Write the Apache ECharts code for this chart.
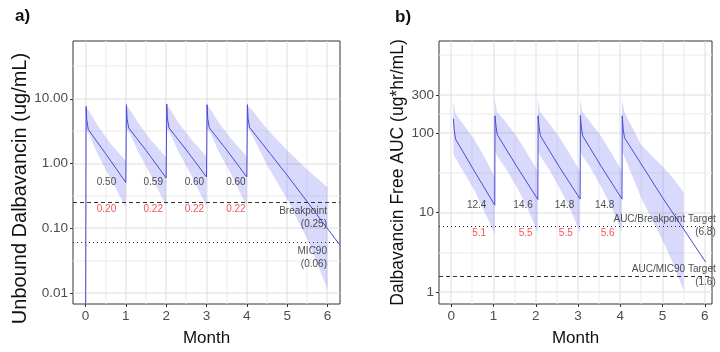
<!DOCTYPE html>
<html><head><meta charset="utf-8">
<script src="https://cdn.jsdelivr.net/npm/echarts@6/dist/echarts.min.js"></script>
<style>html,body{margin:0;padding:0;background:#fff}#c{width:720px;height:352px}</style>
</head><body><div id="c"></div>
<script>
// ---------- Panel a) : unbound concentration ----------
const concT = [0.0, 0.015, 0.03, 0.07, 0.5, 1.0,
               1.015, 1.03, 1.07, 1.5, 2.0,
               2.015, 2.03, 2.07, 2.5, 3.0,
               3.015, 3.03, 3.07, 3.5, 4.0,
               4.015, 4.03, 4.07, 5.0, 6.3];
const concV = [0.001, 7.6, 4.8, 3.35, 1.42, 0.51,
               8.1, 5.0, 3.55, 1.6, 0.60,
               8.3, 5.0, 3.55, 1.62, 0.62,
               8.1, 5.0, 3.55, 1.62, 0.62,
               8.1, 5.0, 3.6, 0.66, 0.056];
const concBandT  = [0.015, 0.1, 0.3, 0.6, 1.0,  1.0, 1.1, 1.3, 1.6, 2.0,  2.0, 2.1, 2.3, 2.6, 3.0,  3.0, 3.1, 3.3, 3.6, 4.0,  4.0, 4.1, 4.5, 5.0, 5.5, 6.0];
const concBandLo = [3.3, 2.7, 1.4, 0.62, 0.21,  3.5, 2.9, 1.55, 0.7, 0.22,  3.5, 2.9, 1.55, 0.7, 0.22,  3.5, 2.9, 1.55, 0.7, 0.22,  3.6, 3.0, 0.95, 0.28, 0.068, 0.0115];
const concBandHi = [7.4, 6.3, 3.9, 2.1, 1.1,  8.0, 6.8, 4.3, 2.4, 1.25,  8.1, 6.9, 4.3, 2.45, 1.28,  8.0, 6.9, 4.3, 2.45, 1.28,  8.0, 7.0, 3.4, 1.6, 0.8, 0.43];
const concMedLabT = [0.52, 1.68, 2.70, 3.73];
const concMedLab  = ['0.50', '0.59', '0.60', '0.60'];
const concLoLab   = ['0.20', '0.22', '0.22', '0.22'];
const concMedLabY = 0.52, concLoLabY = 0.20;
const concRefVals = [0.25, 0.06];
const concRefText = ['Breakpoint\n(0.25)', 'MIC90\n(0.06)'];
const concYTicks = [0.01, 0.1, 1, 10];
const concYMinor = [0.0316, 0.316, 3.16, 31.6];

// ---------- Panel b) : free AUC ----------
const aucT = [0.05, 0.07, 0.1, 0.55, 1.03,
              1.035, 1.06, 1.09, 1.55, 2.05,
              2.055, 2.08, 2.11, 2.55, 3.05,
              3.055, 3.08, 3.11, 3.55, 4.04,
              4.045, 4.07, 4.1, 5.0, 6.02];
const aucV = [150, 110, 84, 33, 12.4,
              164, 120, 95, 38, 14.6,
              164, 115, 92, 38, 14.8,
              165, 115, 92, 38, 14.8,
              164, 110, 87, 15.4, 2.4];
const aucBandT  = [0.05, 0.1, 0.3, 0.55, 0.8, 1.03,  1.03, 1.08, 1.3, 1.55, 1.8, 2.05,  2.05, 2.1, 2.3, 2.55, 2.8, 3.05,  3.05, 3.1, 3.3, 3.55, 3.8, 4.04,  4.04, 4.1, 4.5, 5.0, 5.25, 5.5];
const aucBandLo = [55, 48, 32, 19, 10, 5.3,  60, 52, 35, 21, 11.5, 5.6,  60, 52, 36, 21, 11.5, 5.6,  60, 52, 36, 21, 11.5, 5.7,  60, 50, 15, 4.5, 2.3, 1.05];
const aucBandHi = [250, 175, 125, 82, 48, 28,  270, 185, 135, 90, 55, 33,  270, 185, 135, 90, 55, 33,  270, 185, 135, 90, 55, 33,  260, 180, 70, 38, 27, 18];
const aucMedLabT = [0.60, 1.70, 2.68, 3.63];
const aucLoLabT  = [0.66, 1.76, 2.71, 3.70];
const aucMedLab  = ['12.4', '14.6', '14.8', '14.8'];
const aucLoLab   = ['5.1', '5.5', '5.5', '5.6'];
const aucMedLabY = 12.4, aucLoLabY = 5.5;
const aucRefVals = [6.8, 1.6];
const aucRefText = ['AUC/Breakpoint Target\n(6.8)', 'AUC/MIC90 Target\n(1.6)'];
const aucYTicks = [1, 10, 100, 300];
const aucYMinor = [3.16, 31.6, 173, 948];

const monthTicks = [0, 1, 2, 3, 4, 5, 6];
const monthMinor = [0.5, 1.5, 2.5, 3.5, 4.5, 5.5];

// ---------- styling ----------
const FONT = '"Liberation Sans", Arial, Helvetica, sans-serif';
const LINE_COLOR = '#4a4ad8';
const BAND_COLOR = 'rgba(120,120,240,0.28)';
const MAJOR = '#dedede', MINOR = '#ececec';
const RED = '#ee2b30';

function zip(a, b) { return a.map((v, i) => [v, b[i]]); }

// grid lines: one data item per line; dim2 = 0 vertical / 1 horizontal, dim3 = major flag
function gridLines(i, xMaj, xMin, yMaj, yMin) {
  const items = [];
  xMin.forEach(v => items.push({value: [v, yMaj[1], 0, 0]}));
  yMin.forEach(v => items.push({value: [xMaj[1], v, 1, 0]}));
  xMaj.forEach(v => items.push({value: [v, yMaj[1], 0, 1]}));
  yMaj.forEach(v => items.push({value: [xMaj[1], v, 1, 1]}));
  return {type: 'custom', xAxisIndex: i, yAxisIndex: i, z: 3, silent: true,
    data: items, encode: {x: 0, y: 1},
    renderItem(params, api) {
      const cs = params.coordSys;
      const p = api.coord([api.value(0), api.value(1)]);
      const col = api.value(3) ? MAJOR : MINOR;
      if (api.value(2) === 0) {
        return {type: 'rect', shape: {x: Math.round(p[0]) - 0.5, y: cs.y, width: 1, height: cs.height},
          style: {fill: col}};
      }
      if (p[1] < cs.y || p[1] > cs.y + cs.height) return null;
      return {type: 'rect', shape: {x: cs.x, y: Math.round(p[1]) - 0.5, width: cs.width, height: 1},
        style: {fill: col}};
    }};
}

function band(i, T, LO, HI) {
  return {type: 'custom', xAxisIndex: i, yAxisIndex: i, z: 4, silent: true,
    data: T.map((t, k) => [t, LO[k], HI[k]]),
    encode: {x: 0, y: [1, 2]},
    renderItem(params, api) {
      if (params.dataIndex !== 0) return null;
      const pts = [];
      for (let k = 0; k < T.length; k++) pts.push(api.coord([T[k], HI[k]]));
      for (let k = T.length - 1; k >= 0; k--) pts.push(api.coord([T[k], LO[k]]));
      return {type: 'polygon', shape: {points: pts}, style: {fill: BAND_COLOR}};
    }};
}

function medLine(i, T, V) {
  return {type: 'line', xAxisIndex: i, yAxisIndex: i, z: 5, data: zip(T, V),
    showSymbol: false, symbol: 'none', silent: true, clip: true,
    lineStyle: {color: LINE_COLOR, width: 1}};
}

function refLines(i, vals, types) {
  return {type: 'line', xAxisIndex: i, yAxisIndex: i, data: [], z: 6, silent: true,
    markLine: {silent: true, animation: false, symbol: ['none', 'none'], label: {show: false}, z: 6,
      data: vals.map((v, k) => ({yAxis: v, lineStyle: {color: '#333', width: 1, type: types[k]}}))}};
}

function textPts(i, T, Y, texts, color) {
  return {type: 'scatter', xAxisIndex: i, yAxisIndex: i, z: 7, silent: true, clip: false,
    symbol: 'circle', symbolSize: 1, itemStyle: {color: 'rgba(0,0,0,0)'},
    data: T.map((t, k) => ({value: [t, Y], label: {formatter: texts[k]}})),
    label: {show: true, position: 'inside', color: color, fontSize: 10, fontFamily: FONT}};
}

function refText(i, t, vals, texts, pos, vAlign, lh) {
  return {type: 'scatter', xAxisIndex: i, yAxisIndex: i, z: 7, silent: true, clip: false,
    symbol: 'circle', symbolSize: 1, itemStyle: {color: 'rgba(0,0,0,0)'},
    data: vals.map((v, k) => ({value: [t, v], label: {formatter: texts[k]}})),
    label: {show: true, position: pos, align: 'right', verticalAlign: vAlign, lineHeight: lh,
      color: '#222', fontSize: 10, fontFamily: FONT}};
}

const axisLabelCommon = {color: '#4d4d4d', fontFamily: FONT};
function xAxis(i, min, max) {
  return {type: 'value', gridIndex: i, min: min, max: max,
    name: 'Month', nameLocation: 'middle', nameGap: 26,
    nameTextStyle: {fontSize: 17, color: '#111', fontFamily: FONT},
    axisLine: {show: false, onZero: false}, splitLine: {show: false},
    axisTick: {show: true, length: 3, lineStyle: {color: '#333'}, customValues: monthTicks},
    axisLabel: Object.assign({fontSize: 13.5, margin: 5, customValues: monthTicks}, axisLabelCommon)};
}
function yAxis(i, min, max, ticks, name, nameSize, gap, pad, fmt) {
  return {type: 'log', logBase: 10, gridIndex: i, min: min, max: max,
    name: name, nameLocation: 'middle', nameGap: gap, nameRotate: 90,
    nameTextStyle: {fontSize: nameSize, color: '#111', fontFamily: FONT, padding: pad},
    axisLine: {show: false, onZero: false}, splitLine: {show: false}, minorSplitLine: {show: false},
    axisTick: {show: true, length: 3, lineStyle: {color: '#333'}, customValues: ticks},
    axisLabel: Object.assign({fontSize: 13.5, margin: 5, customValues: ticks, formatter: fmt}, axisLabelCommon)};
}

const option = {
  animation: false,
  backgroundColor: '#fff',
  title: [
    {text: 'a)', left: 10, top: 3, textStyle: {fontSize: 17, fontWeight: 'bold', color: '#111', fontFamily: FONT}},
    {text: 'b)', left: 390, top: 4, textStyle: {fontSize: 17, fontWeight: 'bold', color: '#111', fontFamily: FONT}}
  ],
  grid: [
    {left: 73, right: 380, top: 41, bottom: 47, show: true, borderColor: '#333', borderWidth: 1, backgroundColor: '#fff'},
    {left: 439, right: 8, top: 41, bottom: 47, show: true, borderColor: '#333', borderWidth: 1, backgroundColor: '#fff'}
  ],
  xAxis: [xAxis(0, -0.31, 6.31), xAxis(1, -0.29, 6.17)],
  yAxis: [
    yAxis(0, 0.00678, 78, concYTicks, 'Unbound Dalbavancin (ug/mL)', 20, 38, [0, 32, 0, 0], v => Number(v).toFixed(2)),
    yAxis(1, 0.714, 1425, aucYTicks, 'Dalbavancin Free AUC (ug*hr/mL)', 17.5, 32, 0, v => String(Math.round(v)))
  ],
  series: [
    gridLines(0, monthTicks, monthMinor, concYTicks, concYMinor),
    gridLines(1, monthTicks, monthMinor, aucYTicks, aucYMinor),
    band(0, concBandT, concBandLo, concBandHi),
    band(1, aucBandT, aucBandLo, aucBandHi),
    medLine(0, concT, concV),
    medLine(1, aucT, aucV),
    refLines(0, concRefVals, [[4, 3], [1, 3]]),
    refLines(1, aucRefVals, [[1, 3], [4, 3]]),
    textPts(0, concMedLabT, concMedLabY, concMedLab, '#222'),
    textPts(0, concMedLabT, concLoLabY, concLoLab, RED),
    textPts(1, aucMedLabT, aucMedLabY, aucMedLab, '#222'),
    textPts(1, aucLoLabT, aucLoLabY, aucLoLab, RED),
    refText(0, 6.0, concRefVals, concRefText, [0, 3], 'top', 12.5),
    refText(1, 6.27, aucRefVals, aucRefText, [0, 0], 'middle', 13.3)
  ]
};
const chart = echarts.init(document.getElementById('c'));
chart.setOption(option);
</script></body></html>
